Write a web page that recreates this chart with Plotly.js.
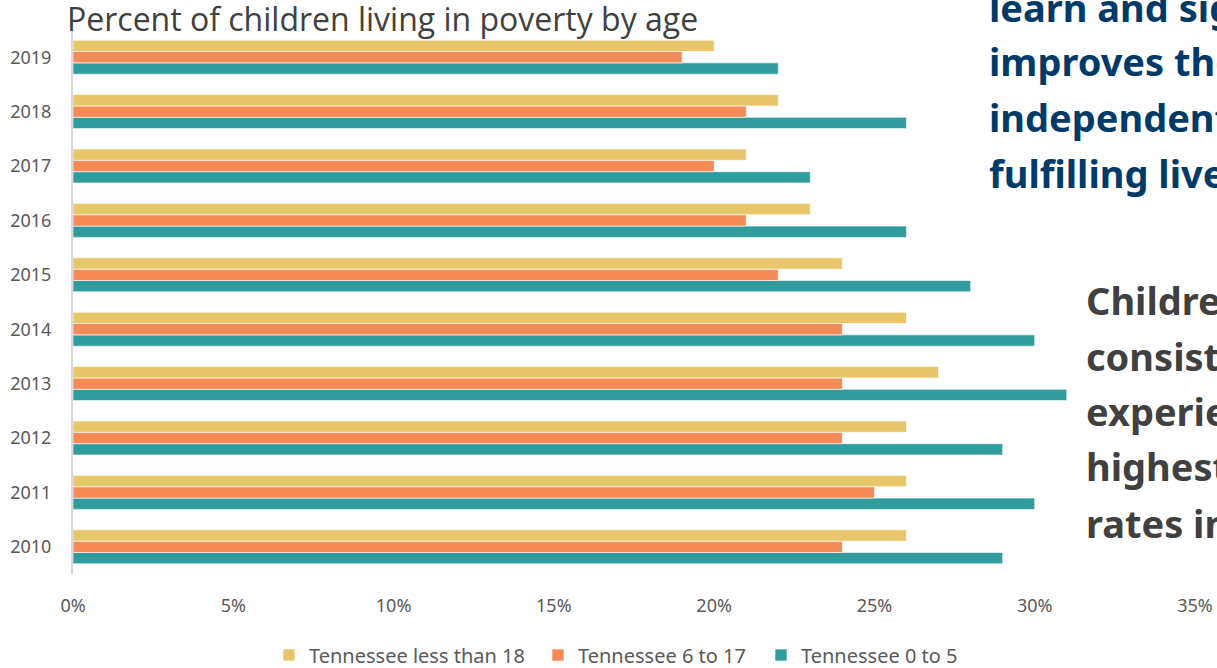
<!DOCTYPE html>
<html>
<head>
<meta charset="utf-8">
<script src="https://cdn.plot.ly/plotly-3.0.1.min.js"></script>
<style>html,body{margin:0;padding:0;background:#fff;overflow:hidden}#chart{width:1217px;height:668px}</style>
</head>
<body>
<div id="chart"></div>
<script>
const years = ["2010","2011","2012","2013","2014","2015","2016","2017","2018","2019"];
const under18 = [0.26,0.26,0.26,0.27,0.26,0.24,0.23,0.21,0.22,0.20];
const age6to17 = [0.24,0.25,0.24,0.24,0.24,0.22,0.21,0.20,0.21,0.19];
const age0to5 = [0.29,0.30,0.29,0.31,0.30,0.28,0.26,0.23,0.26,0.22];
const seriesNames = ["Tennessee 0 to 5","Tennessee 6 to 17","Tennessee less than 18"];
const seriesColors = ["#319C9E","#F48A55","#E8C76A"];
const xTickVals = [0,0.05,0.10,0.15,0.20,0.25,0.30,0.35];
const chartTitle = "Percent of children living in poverty by age";
const blueLines = ["learn and significantly","improves their","independent,","fulfilling lives."];
const grayLines = ["Children","consistently","experience the","highest poverty","rates in"];

const seriesData = [age0to5, age6to17, under18];
const legendIds = ['legend3','legend2','legend'];
const traces = seriesData.map((vals,i)=>({
  type:'bar', orientation:'h', y:years, x:vals, name:seriesNames[i],
  legend:legendIds[i],
  marker:{color:seriesColors[i], line:{color:'#ffffff', width:0.6}},
  hoverinfo:'x+y'
}));

const annotations = [];
const sideFont = '"Noto Sans", Roboto, sans-serif';
const blueY = [7,61,117,173];
blueLines.forEach((t,i)=>annotations.push({
  xref:'paper', yref:'paper', x:(987-73)/1122, y:1-(blueY[i]-30)/544,
  xanchor:'left', yanchor:'middle', showarrow:false, text:t,
  font:{family:sideFont, size:38, color:'#003A68', weight:700}
}));
const grayY = [300,356,411,466,523];
grayLines.forEach((t,i)=>annotations.push({
  xref:'paper', yref:'paper', x:(1084-73)/1122, y:1-(grayY[i]-30)/544,
  xanchor:'left', yanchor:'middle', showarrow:false, text:t,
  font:{family:sideFont, size:38, color:'#404040', weight:700}
}));

const legFont = {family:'"Noto Sans", sans-serif', size:20, color:'#595959'};
function leg(px){
  return {orientation:'h', xref:'container', yref:'container', x:px/1217, xanchor:'left',
    y:13/668, yanchor:'middle', font:legFont, itemwidth:30, bgcolor:'rgba(0,0,0,0)'};
}

const layout = {
  width:1217, height:668,
  margin:{l:73, r:22, t:30, b:94},
  paper_bgcolor:'#ffffff', plot_bgcolor:'#ffffff',
  barmode:'group', bargap:0.375, bargroupgap:0,
  title:{text:chartTitle, xref:'container', yref:'container', x:67/1217, xanchor:'left',
    y:1-20/668, yanchor:'middle', font:{family:'"Open Sans", "Noto Sans", sans-serif', size:32, color:'#404040'}},
  xaxis:{range:[0,0.35], tickvals:xTickVals, tickformat:'.0%', showgrid:false, zeroline:false,
    showline:false, ticks:'outside', ticklen:15, tickcolor:'rgba(0,0,0,0)',
    tickfont:{family:'"Noto Sans", sans-serif', size:18, color:'#595959'}, fixedrange:true},
  yaxis:{type:'category', showgrid:false, zeroline:false, showline:true, linecolor:'#D9D9D9', linewidth:2,
    ticks:'outside', ticklen:16, tickcolor:'rgba(0,0,0,0)',
    tickfont:{family:'"Noto Sans", sans-serif', size:18, color:'#595959'}, fixedrange:true},
  showlegend:true,
  legend:leg(269),
  legend2:leg(538),
  legend3:leg(761),
  annotations:annotations
};
Plotly.newPlot('chart', traces, layout, {displayModeBar:false, staticPlot:true});
</script>
</body>
</html>
